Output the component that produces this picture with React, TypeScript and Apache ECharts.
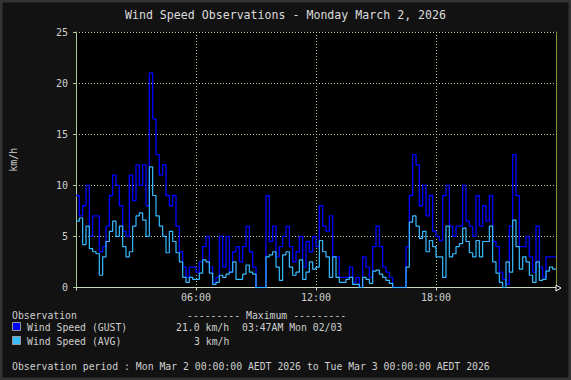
import React, { useEffect, useRef } from "react";
import * as echarts from "echarts";

// 10-minute observations, 6 values per hour (00:00 .. 23:50)
const gust: number[] = [
  9, 7, 8, 10, 5, 7, // 00
  7, 3.5, 4, 6, 9, 11, // 01
  10, 8, 5.5, 5, 11, 8.5, // 02
  12, 10, 12, 8, 21, 16.5, // 03
  13, 11, 12, 9, 8, 9, // 04
  6, 3.5, 2, 1, 2, 2, // 05
  1.5, 2.5, 4, 5, 2, 0.5, // 06
  1, 5, 2, 5, 1.5, 3.5, // 07
  4, 2.5, 4, 6, 3.5, 2, // 08
  0, 0, 0, 9, 4.5, 6, // 09
  3, 4, 5, 6, 4, 2.5, // 10
  3.5, 5, 2, 4.5, 3.5, 5, // 11
  4, 8, 6, 5.5, 7, 3, // 12
  3, 1, 1, 1, 2, 0.5, // 13
  1, 0, 3, 2, 1, 4, // 14
  6, 4, 2, 1.5, 1, 0, // 15
  0, 0, 0, 4, 9, 13, // 16
  12, 8, 10, 7, 9, 5.5, // 17
  5, 4.6, 9, 10, 6, 5, // 18
  6, 6, 10, 6.5, 6, 5, // 19
  9, 6, 8, 6.5, 9, 4.5, // 20
  4, 1.5, 0.8, 0.3, 6, 13, // 21
  9, 4, 4, 5, 3, 1.5, // 22
  6, 2, 1, 3, 3, 3, // 23
];

const avg: number[] = [
  6.5, 6.8, 4.2, 6, 3.8, 3.5, // 00
  3.3, 1.2, 3, 4.5, 5.5, 6.5, // 01
  5, 6, 4, 3, 3.5, 6, // 02
  7, 7.3, 6.6, 5, 11.8, 9, // 03
  7, 6, 5, 3.4, 5.5, 4.5, // 04
  3.4, 2.5, 1, 0.5, 1, 0.8, // 05
  0.8, 1.4, 2.7, 2.5, 1.4, 0.3, // 06
  0.5, 1.2, 1, 1.3, 1.5, 2.5, // 07
  0.8, 0.8, 1.3, 2.2, 1.5, 1.3, // 08
  0, 0, 0, 3, 3.2, 3.5, // 09
  2, 0.7, 3.2, 3.5, 2, 1.2, // 10
  1.5, 2.7, 0.8, 1.5, 2.5, 1.8, // 11
  2, 4.6, 3.5, 3, 1, 3, // 12
  1, 0.5, 0.5, 0.8, 1, 0.3, // 13
  0.3, 0, 1, 0.8, 0.4, 1.6, // 14
  1.7, 1.3, 1, 0.7, 0.4, 0, // 15
  0, 0, 0, 2, 6.4, 7, // 16
  6, 4.8, 5.5, 3.5, 4.6, 4, // 17
  3, 3, 1, 6, 3, 3.3, // 18
  4, 4.3, 5.8, 4.5, 3.4, 3, // 19
  4.6, 3, 4.5, 4.5, 6, 2.5, // 20
  1.4, 0.5, 0, 2.5, 1.5, 6.6, // 21
  4, 1.8, 3, 2.5, 1.2, 0.5, // 22
  2.5, 0.7, 0.8, 1.6, 2, 1.8, // 23
];

const xTicks = [0, 6, 12, 18, 24];
const yTicks = [0, 5, 10, 15, 20, 25];

const TITLE = "Wind Speed Observations - Monday March 2, 2026";
const GUST_NAME = "Wind Speed (GUST)";
const AVG_NAME = "Wind Speed (AVG)";
const GUST_MAX_TIME = "03:47AM Mon 02/03";
const AVG_MAX_TEXT = "3 km/h";
const PERIOD = "Observation period : Mon Mar 2 00:00:00 AEDT 2026 to Tue Mar 3 00:00:00 AEDT 2026";

const GUST_COLOR = "#0000ff";
const AVG_COLOR = "#38bbff";
const MONO = "'DejaVu Sans Mono', 'Liberation Mono', monospace";

function toSeries(values: number[]): [number, number][] {
  const pts: [number, number][] = values.map((v, i) => [i / 6, v]);
  pts.push([24, values[values.length - 1]]);
  return pts;
}

export default function App() {
  const ref = useRef<HTMLDivElement>(null);

  useEffect(() => {
    if (!ref.current) return;
    const chart = echarts.init(ref.current, undefined, { renderer: "svg" });
    const gustMax = Math.max(...gust).toFixed(1) + " km/h";
    const legendText = (x: number, y: number, text: string) => ({
      type: "text",
      x,
      y,
      style: { text, fill: "#cfcfcf", font: `9.8px ${MONO}`, verticalAlign: "middle" },
    });
    const option: any = {
      animation: false,
      backgroundColor: "#121212",
      graphic: [
        {
          type: "rect",
          shape: { x: 1, y: 1, width: 569, height: 378 },
          style: { fill: "none", stroke: "#333333", lineWidth: 3 },
          silent: true,
        },
        {
          type: "text",
          x: 285.5,
          y: 15,
          style: {
            text: TITLE,
            fill: "#dcdcdc",
            font: `11.6px ${MONO}`,
            align: "center",
            verticalAlign: "middle",
          },
        },
        {
          type: "polygon",
          shape: { points: [[556, 285], [561, 288], [556, 291]] },
          style: { fill: "#000", stroke: "#ffffff", lineWidth: 1 },
          z: 10,
        },
        legendText(12, 315, "Observation"),
        legendText(187, 315, "--------- Maximum ---------"),
        {
          type: "rect",
          shape: { x: 12.5, y: 322.5, width: 8, height: 8 },
          style: { fill: GUST_COLOR, stroke: "#9a9a9a", lineWidth: 1 },
        },
        legendText(27, 327, GUST_NAME),
        legendText(176, 327, gustMax),
        legendText(242, 327, GUST_MAX_TIME),
        {
          type: "rect",
          shape: { x: 12.5, y: 336.5, width: 8, height: 8 },
          style: { fill: AVG_COLOR, stroke: "#9a9a9a", lineWidth: 1 },
        },
        legendText(27, 341, AVG_NAME),
        legendText(194, 341, AVG_MAX_TEXT),
        legendText(12, 366, PERIOD),
      ],
      grid: {
        left: 75.5,
        top: 32,
        width: 480.5,
        height: 255.5,
        show: true,
        backgroundColor: "#000000",
        borderWidth: 0,
      },
      xAxis: {
        type: "value",
        min: xTicks[0],
        max: xTicks[xTicks.length - 1],
        interval: 6,
        axisLine: { show: true, onZero: false, lineStyle: { color: "#c8d8c0", width: 1 } },
        axisTick: { show: true, length: 3, lineStyle: { color: "#c8d8c0" } },
        axisLabel: {
          color: "#cfcfcf",
          fontFamily: MONO,
          fontSize: 10,
          margin: 5,
          formatter: (v: number) => (v === 0 || v === 24 ? "" : String(v).padStart(2, "0") + ":00"),
        },
        splitLine: { show: true, lineStyle: { color: "#bcd6a6", type: [1, 2], width: 1 } },
      },
      yAxis: [
        {
          type: "value",
          min: yTicks[0],
          max: yTicks[yTicks.length - 1],
          interval: 5,
          name: "km/h",
          nameLocation: "middle",
          nameGap: 58,
          nameRotate: 90,
          nameTextStyle: { color: "#cfcfcf", fontFamily: MONO, fontSize: 10 },
          axisLine: { show: true, lineStyle: { color: "#a8c890", width: 1 } },
          axisTick: { show: true, length: 3, lineStyle: { color: "#a8c890" } },
          axisLabel: { color: "#cfcfcf", fontFamily: MONO, fontSize: 10, margin: 8 },
          splitLine: { show: true, lineStyle: { color: "#bcd6a6", type: [1, 2], width: 1 } },
        },
        {
          type: "value",
          position: "right",
          min: 0,
          max: 25,
          interval: 5,
          axisLine: { show: true, lineStyle: { color: "#8f8f3a", width: 1 } },
          axisTick: { show: false },
          axisLabel: { show: false },
          splitLine: { show: false },
        },
      ],
      series: [
        {
          name: GUST_NAME,
          type: "line",
          step: "end",
          showSymbol: false,
          data: toSeries(gust),
          lineStyle: { color: GUST_COLOR, width: 1.3 },
          itemStyle: { color: GUST_COLOR },
          z: 3,
        },
        {
          name: AVG_NAME,
          type: "line",
          step: "end",
          showSymbol: false,
          data: toSeries(avg),
          lineStyle: { color: AVG_COLOR, width: 1.2 },
          itemStyle: { color: AVG_COLOR },
          z: 4,
        },
      ],
    };
    chart.setOption(option);
    return () => chart.dispose();
  }, []);

  return (
    <div
      ref={ref}
      style={{ position: "absolute", left: 0, top: 0, width: 571, height: 380 }}
    />
  );
}
